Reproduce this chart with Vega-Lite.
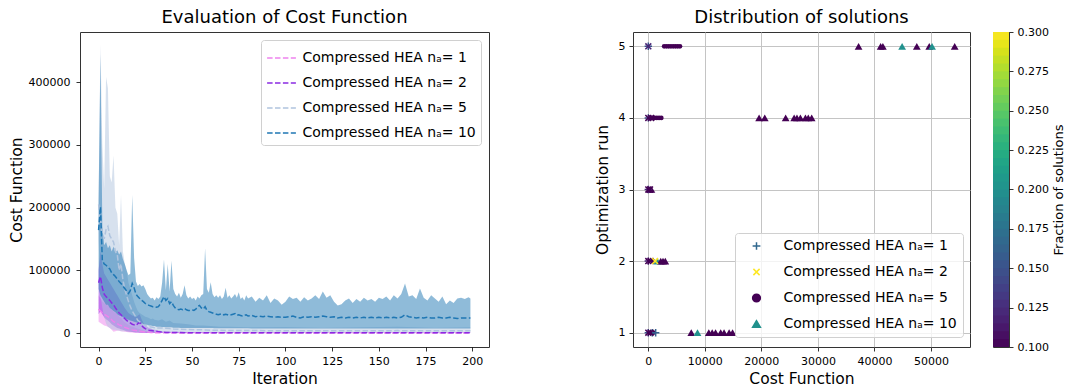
{
  "$schema": "https://vega.github.io/schema/vega-lite/v6.json",
  "padding": {"left": 8, "top": 2, "right": 0, "bottom": 0},
  "background": "white",
  "config": {
    "font": "DejaVu Sans",
    "view": {"stroke": "#333333", "strokeWidth": 1},
    "axis": {"labelFontSize": 11, "labelColor": "#000000", "labelFont": "DejaVu Sans", "titleFont": "DejaVu Sans", "titleFontSize": 15.5, "titleFontWeight": "normal", "titleColor": "#000000", "tickColor": "#000000", "tickSize": 4, "tickWidth": 0.8, "labelPadding": 4, "domain": false, "grid": false},
    "title": {"fontSize": 18, "fontWeight": "normal", "font": "DejaVu Sans", "color": "#000000", "offset": 5},
    "legend": {"labelFont": "DejaVu Sans", "labelFontSize": 14, "labelColor": "#000000", "labelLimit": 400}
  },
  "datasets": {
    "cost": [
      {"s":"1","i":0,"lo":18000,"hi":60000,"m":38000},{"s":"1","i":1,"lo":16000,"hi":55000,"m":35000},{"s":"1","i":2,"lo":14000,"hi":50000,"m":32000},{"s":"1","i":3,"lo":12000,"hi":48000,"m":30000},{"s":"1","i":4,"lo":11000,"hi":45000,"m":28000},{"s":"1","i":5,"lo":10000,"hi":45000,"m":26000},{"s":"1","i":6,"lo":8000,"hi":40000,"m":24000},{"s":"1","i":7,"lo":5000,"hi":38000,"m":21000},{"s":"1","i":8,"lo":2000,"hi":34000,"m":18000},{"s":"1","i":9,"lo":3000,"hi":32000,"m":17000},{"s":"1","i":10,"lo":4000,"hi":30000,"m":15000},{"s":"1","i":11,"lo":3500,"hi":26000,"m":13000},{"s":"1","i":12,"lo":3000,"hi":24000,"m":12000},{"s":"1","i":13,"lo":2500,"hi":20000,"m":10000},{"s":"1","i":14,"lo":2000,"hi":17000,"m":9000},{"s":"1","i":15,"lo":1500,"hi":15000,"m":8000},{"s":"1","i":16,"lo":1200,"hi":13000,"m":7000},{"s":"1","i":17,"lo":1000,"hi":11000,"m":6000},{"s":"1","i":18,"lo":800,"hi":10000,"m":5000},{"s":"1","i":19,"lo":600,"hi":9000,"m":4500},{"s":"1","i":20,"lo":500,"hi":8000,"m":4000},{"s":"1","i":22,"lo":300,"hi":6000,"m":3000},{"s":"1","i":24,"lo":200,"hi":4000,"m":2000},{"s":"1","i":26,"lo":100,"hi":3000,"m":1500},{"s":"1","i":28,"lo":0,"hi":2000,"m":1000},{"s":"1","i":30,"lo":0,"hi":1200,"m":600},{"s":"1","i":35,"lo":0,"hi":800,"m":300},{"s":"1","i":40,"lo":0,"hi":500,"m":200},{"s":"1","i":60,"lo":0,"hi":300,"m":100},{"s":"1","i":100,"lo":0,"hi":300,"m":100},{"s":"1","i":150,"lo":0,"hi":300,"m":100},{"s":"1","i":199,"lo":0,"hi":300,"m":100},
      {"s":"2","i":0,"lo":30000,"hi":100000,"m":80000},{"s":"2","i":1,"lo":35000,"hi":130000,"m":90000},{"s":"2","i":2,"lo":30000,"hi":110000,"m":72000},{"s":"2","i":3,"lo":25000,"hi":95000,"m":62000},{"s":"2","i":4,"lo":22000,"hi":90000,"m":58000},{"s":"2","i":5,"lo":20000,"hi":85000,"m":55000},{"s":"2","i":6,"lo":17000,"hi":80000,"m":52000},{"s":"2","i":7,"lo":14000,"hi":75000,"m":48000},{"s":"2","i":8,"lo":12000,"hi":70000,"m":45000},{"s":"2","i":9,"lo":10000,"hi":65000,"m":40000},{"s":"2","i":10,"lo":8000,"hi":60000,"m":36000},{"s":"2","i":11,"lo":7000,"hi":55000,"m":32000},{"s":"2","i":12,"lo":6000,"hi":50000,"m":29000},{"s":"2","i":13,"lo":5000,"hi":45000,"m":26000},{"s":"2","i":14,"lo":4000,"hi":40000,"m":23000},{"s":"2","i":15,"lo":3000,"hi":36000,"m":20000},{"s":"2","i":16,"lo":2500,"hi":32000,"m":18000},{"s":"2","i":17,"lo":2000,"hi":30000,"m":16000},{"s":"2","i":18,"lo":1500,"hi":28000,"m":14000},{"s":"2","i":19,"lo":1200,"hi":27000,"m":13000},{"s":"2","i":20,"lo":1000,"hi":25000,"m":12000},{"s":"2","i":21,"lo":800,"hi":28000,"m":15000},{"s":"2","i":22,"lo":600,"hi":30000,"m":17000},{"s":"2","i":23,"lo":500,"hi":22000,"m":12000},{"s":"2","i":24,"lo":400,"hi":16000,"m":9000},{"s":"2","i":25,"lo":300,"hi":12000,"m":7000},{"s":"2","i":26,"lo":200,"hi":10000,"m":5500},{"s":"2","i":27,"lo":200,"hi":8000,"m":4500},{"s":"2","i":28,"lo":100,"hi":7000,"m":4000},{"s":"2","i":29,"lo":100,"hi":6000,"m":3500},{"s":"2","i":30,"lo":100,"hi":5000,"m":3000},{"s":"2","i":32,"lo":50,"hi":4000,"m":2200},{"s":"2","i":34,"lo":50,"hi":3000,"m":1500},{"s":"2","i":36,"lo":0,"hi":2500,"m":1000},{"s":"2","i":40,"lo":0,"hi":2000,"m":700},{"s":"2","i":50,"lo":0,"hi":1500,"m":500},{"s":"2","i":60,"lo":0,"hi":1200,"m":400},{"s":"2","i":80,"lo":0,"hi":1000,"m":300},{"s":"2","i":100,"lo":0,"hi":800,"m":250},{"s":"2","i":130,"lo":0,"hi":800,"m":250},{"s":"2","i":160,"lo":0,"hi":800,"m":250},{"s":"2","i":199,"lo":0,"hi":800,"m":250},
      {"s":"5","i":0,"lo":150000,"hi":215000,"m":205000},{"s":"5","i":1,"lo":60000,"hi":459000,"m":180000},{"s":"5","i":2,"lo":40000,"hi":300000,"m":160000},{"s":"5","i":3,"lo":25000,"hi":230000,"m":150000},{"s":"5","i":4,"lo":15000,"hi":408000,"m":165000},{"s":"5","i":5,"lo":10000,"hi":390000,"m":170000},{"s":"5","i":6,"lo":8000,"hi":250000,"m":155000},{"s":"5","i":7,"lo":6000,"hi":240000,"m":150000},{"s":"5","i":8,"lo":5000,"hi":283000,"m":145000},{"s":"5","i":9,"lo":5000,"hi":200000,"m":130000},{"s":"5","i":10,"lo":4000,"hi":190000,"m":125000},{"s":"5","i":11,"lo":4000,"hi":140000,"m":100000},{"s":"5","i":12,"lo":3000,"hi":220000,"m":110000},{"s":"5","i":13,"lo":3000,"hi":130000,"m":85000},{"s":"5","i":14,"lo":3000,"hi":110000,"m":70000},{"s":"5","i":15,"lo":2500,"hi":100000,"m":60000},{"s":"5","i":16,"lo":2500,"hi":80000,"m":50000},{"s":"5","i":17,"lo":2000,"hi":70000,"m":42000},{"s":"5","i":18,"lo":2000,"hi":60000,"m":35000},{"s":"5","i":19,"lo":2000,"hi":50000,"m":30000},{"s":"5","i":20,"lo":2000,"hi":42000,"m":25000},{"s":"5","i":21,"lo":1500,"hi":35000,"m":20000},{"s":"5","i":22,"lo":1500,"hi":32000,"m":18000},{"s":"5","i":23,"lo":1500,"hi":30000,"m":15000},{"s":"5","i":24,"lo":1500,"hi":28000,"m":13000},{"s":"5","i":25,"lo":1500,"hi":26000,"m":12000},{"s":"5","i":26,"lo":1200,"hi":25000,"m":11000},{"s":"5","i":27,"lo":1200,"hi":24000,"m":10000},{"s":"5","i":28,"lo":1200,"hi":22000,"m":9500},{"s":"5","i":29,"lo":1200,"hi":23000,"m":9000},{"s":"5","i":30,"lo":1000,"hi":21000,"m":8500},{"s":"5","i":32,"lo":1000,"hi":20000,"m":8000},{"s":"5","i":34,"lo":1000,"hi":22000,"m":8000},{"s":"5","i":36,"lo":1000,"hi":18000,"m":7500},{"s":"5","i":38,"lo":1000,"hi":20000,"m":7000},{"s":"5","i":40,"lo":1000,"hi":16000,"m":6500},{"s":"5","i":44,"lo":1000,"hi":15000,"m":6000},{"s":"5","i":48,"lo":1000,"hi":14000,"m":5500},{"s":"5","i":52,"lo":800,"hi":12000,"m":5000},{"s":"5","i":56,"lo":800,"hi":12000,"m":5000},{"s":"5","i":60,"lo":800,"hi":11000,"m":4500},{"s":"5","i":65,"lo":800,"hi":10000,"m":4500},{"s":"5","i":70,"lo":800,"hi":10000,"m":4000},{"s":"5","i":80,"lo":800,"hi":9000,"m":4000},{"s":"5","i":100,"lo":700,"hi":9500,"m":3500},{"s":"5","i":120,"lo":700,"hi":8500,"m":3500},{"s":"5","i":140,"lo":700,"hi":9000,"m":3500},{"s":"5","i":160,"lo":700,"hi":10000,"m":3800},{"s":"5","i":180,"lo":700,"hi":8500,"m":3500},{"s":"5","i":199,"lo":700,"hi":9000,"m":3500},
      {"s":"10","i":0,"lo":70000,"hi":210000,"m":164000},{"s":"10","i":1,"lo":60000,"hi":443000,"m":201000},{"s":"10","i":2,"lo":55000,"hi":170000,"m":116000},{"s":"10","i":3,"lo":50000,"hi":140000,"m":110000},{"s":"10","i":4,"lo":45000,"hi":145000,"m":108000},{"s":"10","i":5,"lo":45000,"hi":135000,"m":105000},{"s":"10","i":6,"lo":40000,"hi":140000,"m":102000},{"s":"10","i":7,"lo":38000,"hi":130000,"m":96000},{"s":"10","i":8,"lo":35000,"hi":138000,"m":93000},{"s":"10","i":9,"lo":33000,"hi":128000,"m":90000},{"s":"10","i":10,"lo":30000,"hi":132000,"m":86000},{"s":"10","i":11,"lo":28000,"hi":125000,"m":82000},{"s":"10","i":12,"lo":27000,"hi":130000,"m":79000},{"s":"10","i":13,"lo":25000,"hi":118000,"m":75000},{"s":"10","i":14,"lo":24000,"hi":110000,"m":71000},{"s":"10","i":15,"lo":22000,"hi":100000,"m":67000},{"s":"10","i":16,"lo":21000,"hi":92000,"m":63000},{"s":"10","i":17,"lo":20000,"hi":95000,"m":68000},{"s":"10","i":18,"lo":19000,"hi":220000,"m":79000},{"s":"10","i":19,"lo":18000,"hi":120000,"m":72000},{"s":"10","i":20,"lo":17000,"hi":82000,"m":62000},{"s":"10","i":21,"lo":16000,"hi":75000,"m":58000},{"s":"10","i":22,"lo":15000,"hi":78000,"m":55000},{"s":"10","i":23,"lo":15000,"hi":74000,"m":52000},{"s":"10","i":24,"lo":14000,"hi":76000,"m":50000},{"s":"10","i":25,"lo":13000,"hi":70000,"m":47000},{"s":"10","i":26,"lo":13000,"hi":62000,"m":45000},{"s":"10","i":27,"lo":12000,"hi":58000,"m":44000},{"s":"10","i":28,"lo":12000,"hi":55000,"m":43000},{"s":"10","i":29,"lo":11000,"hi":56000,"m":42000},{"s":"10","i":30,"lo":11000,"hi":52000,"m":42000},{"s":"10","i":31,"lo":10000,"hi":57000,"m":41000},{"s":"10","i":32,"lo":10000,"hi":54000,"m":42000},{"s":"10","i":33,"lo":10000,"hi":58000,"m":46000},{"s":"10","i":34,"lo":9500,"hi":80000,"m":52000},{"s":"10","i":35,"lo":9500,"hi":117000,"m":58000},{"s":"10","i":36,"lo":9000,"hi":68000,"m":52000},{"s":"10","i":37,"lo":9000,"hi":110000,"m":55000},{"s":"10","i":38,"lo":9000,"hi":66000,"m":47000},{"s":"10","i":39,"lo":9000,"hi":115000,"m":50000},{"s":"10","i":40,"lo":8500,"hi":70000,"m":44000},{"s":"10","i":41,"lo":8500,"hi":62000,"m":40000},{"s":"10","i":42,"lo":8500,"hi":58000,"m":38000},{"s":"10","i":43,"lo":8500,"hi":64000,"m":37000},{"s":"10","i":44,"lo":8000,"hi":56000,"m":38000},{"s":"10","i":45,"lo":8000,"hi":62000,"m":37000},{"s":"10","i":46,"lo":8000,"hi":76000,"m":39000},{"s":"10","i":47,"lo":8000,"hi":60000,"m":37000},{"s":"10","i":48,"lo":8000,"hi":55000,"m":36000},{"s":"10","i":49,"lo":8000,"hi":58000,"m":36000},{"s":"10","i":50,"lo":8000,"hi":54000,"m":37000},{"s":"10","i":51,"lo":8000,"hi":56000,"m":36000},{"s":"10","i":52,"lo":8000,"hi":52000,"m":38000},{"s":"10","i":53,"lo":8000,"hi":58000,"m":42000},{"s":"10","i":54,"lo":8000,"hi":55000,"m":44000},{"s":"10","i":55,"lo":8000,"hi":60000,"m":40000},{"s":"10","i":56,"lo":8000,"hi":62000,"m":38000},{"s":"10","i":57,"lo":8000,"hi":135000,"m":42000},{"s":"10","i":58,"lo":8000,"hi":70000,"m":36000},{"s":"10","i":59,"lo":8000,"hi":64000,"m":34000},{"s":"10","i":60,"lo":8000,"hi":81000,"m":33000},{"s":"10","i":61,"lo":8000,"hi":62000,"m":32000},{"s":"10","i":62,"lo":7500,"hi":57000,"m":31000},{"s":"10","i":63,"lo":7500,"hi":60000,"m":30000},{"s":"10","i":64,"lo":7500,"hi":56000,"m":29000},{"s":"10","i":65,"lo":7500,"hi":60000,"m":30000},{"s":"10","i":66,"lo":7500,"hi":54000,"m":31000},{"s":"10","i":67,"lo":7500,"hi":58000,"m":29000},{"s":"10","i":68,"lo":7500,"hi":72000,"m":30000},{"s":"10","i":69,"lo":7500,"hi":56000,"m":29000},{"s":"10","i":70,"lo":7500,"hi":60000,"m":28000},{"s":"10","i":71,"lo":7500,"hi":55000,"m":29000},{"s":"10","i":72,"lo":7500,"hi":58000,"m":30000},{"s":"10","i":73,"lo":7500,"hi":62000,"m":31000},{"s":"10","i":74,"lo":7500,"hi":56000,"m":28000},{"s":"10","i":75,"lo":7500,"hi":65000,"m":29000},{"s":"10","i":76,"lo":7500,"hi":54000,"m":28000},{"s":"10","i":77,"lo":7500,"hi":57000,"m":27000},{"s":"10","i":78,"lo":7500,"hi":52000,"m":28000},{"s":"10","i":79,"lo":7500,"hi":60000,"m":29000},{"s":"10","i":80,"lo":7500,"hi":55000,"m":27000},
      {"s":"10","i":82,"lo":7000,"hi":58000,"m":28000},{"s":"10","i":84,"lo":7000,"hi":50000,"m":26000},{"s":"10","i":86,"lo":7000,"hi":56000,"m":27000},{"s":"10","i":88,"lo":7000,"hi":52000,"m":26000},{"s":"10","i":90,"lo":7000,"hi":60000,"m":27000},{"s":"10","i":92,"lo":7000,"hi":48000,"m":26000},{"s":"10","i":94,"lo":7000,"hi":55000,"m":25000},{"s":"10","i":96,"lo":7000,"hi":52000,"m":26000},{"s":"10","i":98,"lo":7000,"hi":45000,"m":25000},{"s":"10","i":100,"lo":7000,"hi":50000,"m":25000},{"s":"10","i":102,"lo":7000,"hi":58000,"m":26000},{"s":"10","i":104,"lo":7000,"hi":54000,"m":27000},{"s":"10","i":106,"lo":7000,"hi":56000,"m":25000},{"s":"10","i":108,"lo":7000,"hi":50000,"m":24000},{"s":"10","i":110,"lo":7000,"hi":57000,"m":26000},{"s":"10","i":112,"lo":7000,"hi":52000,"m":25000},{"s":"10","i":114,"lo":7000,"hi":55000,"m":26000},{"s":"10","i":116,"lo":7000,"hi":60000,"m":25000},{"s":"10","i":118,"lo":7000,"hi":54000,"m":26000},{"s":"10","i":120,"lo":7000,"hi":66000,"m":27000},{"s":"10","i":122,"lo":7000,"hi":56000,"m":26000},{"s":"10","i":124,"lo":7000,"hi":60000,"m":25000},{"s":"10","i":126,"lo":7000,"hi":50000,"m":26000},{"s":"10","i":128,"lo":7000,"hi":44000,"m":24000},{"s":"10","i":130,"lo":7000,"hi":46000,"m":25000},{"s":"10","i":132,"lo":7000,"hi":52000,"m":24000},{"s":"10","i":134,"lo":7000,"hi":55000,"m":25000},{"s":"10","i":136,"lo":7000,"hi":48000,"m":24000},{"s":"10","i":138,"lo":7000,"hi":54000,"m":25000},{"s":"10","i":140,"lo":7000,"hi":50000,"m":24000},{"s":"10","i":142,"lo":7000,"hi":56000,"m":25000},{"s":"10","i":144,"lo":7000,"hi":52000,"m":24000},{"s":"10","i":146,"lo":7000,"hi":54000,"m":25000},{"s":"10","i":148,"lo":7000,"hi":50000,"m":24000},{"s":"10","i":150,"lo":7000,"hi":56000,"m":25000},{"s":"10","i":152,"lo":7000,"hi":54000,"m":24000},{"s":"10","i":154,"lo":7000,"hi":58000,"m":25000},{"s":"10","i":156,"lo":7000,"hi":52000,"m":24000},{"s":"10","i":158,"lo":7000,"hi":60000,"m":25000},{"s":"10","i":160,"lo":7000,"hi":55000,"m":24000},{"s":"10","i":162,"lo":7000,"hi":62000,"m":25000},{"s":"10","i":164,"lo":7000,"hi":79000,"m":29000},{"s":"10","i":166,"lo":7000,"hi":58000,"m":26000},{"s":"10","i":168,"lo":7000,"hi":60000,"m":25000},{"s":"10","i":170,"lo":7000,"hi":54000,"m":24000},{"s":"10","i":172,"lo":7000,"hi":71000,"m":25000},{"s":"10","i":174,"lo":7000,"hi":56000,"m":24000},{"s":"10","i":176,"lo":7000,"hi":52000,"m":25000},{"s":"10","i":178,"lo":7000,"hi":60000,"m":24000},{"s":"10","i":180,"lo":7000,"hi":55000,"m":24000},{"s":"10","i":182,"lo":7000,"hi":50000,"m":25000},{"s":"10","i":184,"lo":7000,"hi":58000,"m":24000},{"s":"10","i":186,"lo":7000,"hi":46000,"m":24000},{"s":"10","i":188,"lo":7000,"hi":52000,"m":25000},{"s":"10","i":190,"lo":7000,"hi":48000,"m":24000},{"s":"10","i":192,"lo":7000,"hi":55000,"m":23000},{"s":"10","i":194,"lo":7000,"hi":56000,"m":24000},{"s":"10","i":196,"lo":7000,"hi":54000,"m":24000},{"s":"10","i":198,"lo":7000,"hi":57000,"m":24000},{"s":"10","i":199,"lo":7000,"hi":55000,"m":24000}
    ],
    "sol": [
      {"s":"1","x":0,"y":5,"f":0.15},{"s":"1","x":0,"y":4,"f":0.15},{"s":"1","x":0,"y":3,"f":0.12},{"s":"1","x":0,"y":2,"f":0.12},{"s":"1","x":0,"y":1,"f":0.15},{"s":"1","x":700,"y":1,"f":0.17},{"s":"1","x":1300,"y":1,"f":0.16},
      {"s":"2","x":0,"y":5,"f":0.12},{"s":"2","x":0,"y":4,"f":0.1},{"s":"2","x":500,"y":4,"f":0.1},{"s":"2","x":0,"y":3,"f":0.1},{"s":"2","x":300,"y":3,"f":0.1},{"s":"2","x":0,"y":2,"f":0.1},{"s":"2","x":400,"y":2,"f":0.1},{"s":"2","x":1200,"y":2,"f":0.3},{"s":"2","x":0,"y":1,"f":0.1},{"s":"2","x":400,"y":1,"f":0.1},
      {"s":"5","x":2800,"y":5,"f":0.1},{"s":"5","x":3200,"y":5,"f":0.1},{"s":"5","x":3600,"y":5,"f":0.1},{"s":"5","x":4000,"y":5,"f":0.1},{"s":"5","x":4400,"y":5,"f":0.1},{"s":"5","x":4800,"y":5,"f":0.1},{"s":"5","x":5200,"y":5,"f":0.1},{"s":"5","x":5600,"y":5,"f":0.1},
      {"s":"5","x":300,"y":4,"f":0.1},{"s":"5","x":700,"y":4,"f":0.1},{"s":"5","x":1100,"y":4,"f":0.1},{"s":"5","x":1500,"y":4,"f":0.1},{"s":"5","x":1900,"y":4,"f":0.1},{"s":"5","x":2300,"y":4,"f":0.1},
      {"s":"5","x":100,"y":3,"f":0.1},{"s":"5","x":800,"y":2,"f":0.1},{"s":"5","x":500,"y":1,"f":0.1},{"s":"5","x":900,"y":1,"f":0.1},
      {"s":"10","x":37200,"y":5,"f":0.1},{"s":"10","x":41100,"y":5,"f":0.1},{"s":"10","x":41500,"y":5,"f":0.1},{"s":"10","x":44900,"y":5,"f":0.2},{"s":"10","x":47500,"y":5,"f":0.1},{"s":"10","x":49700,"y":5,"f":0.1},{"s":"10","x":50200,"y":5,"f":0.2},{"s":"10","x":54200,"y":5,"f":0.1},
      {"s":"10","x":19600,"y":4,"f":0.1},{"s":"10","x":20600,"y":4,"f":0.1},{"s":"10","x":24300,"y":4,"f":0.1},{"s":"10","x":25800,"y":4,"f":0.1},{"s":"10","x":26300,"y":4,"f":0.1},{"s":"10","x":26900,"y":4,"f":0.1},{"s":"10","x":27800,"y":4,"f":0.1},{"s":"10","x":28300,"y":4,"f":0.1},{"s":"10","x":28900,"y":4,"f":0.1},
      {"s":"10","x":250,"y":3,"f":0.1},{"s":"10","x":550,"y":3,"f":0.1},
      {"s":"10","x":1600,"y":2,"f":0.2},{"s":"10","x":2200,"y":2,"f":0.1},{"s":"10","x":2600,"y":2,"f":0.1},{"s":"10","x":3000,"y":2,"f":0.1},
      {"s":"10","x":7600,"y":1,"f":0.1},{"s":"10","x":8700,"y":1,"f":0.2},{"s":"10","x":10700,"y":1,"f":0.1},{"s":"10","x":11300,"y":1,"f":0.1},{"s":"10","x":11900,"y":1,"f":0.1},{"s":"10","x":12800,"y":1,"f":0.1},{"s":"10","x":13400,"y":1,"f":0.1},{"s":"10","x":14300,"y":1,"f":0.1},{"s":"10","x":14900,"y":1,"f":0.1}
    ],
    "cb": [
      {"a":0.100,"b":0.106,"c":0.1025},{"a":0.105,"b":0.111,"c":0.1075},{"a":0.110,"b":0.116,"c":0.1125},{"a":0.115,"b":0.121,"c":0.1175},{"a":0.120,"b":0.126,"c":0.1225},{"a":0.125,"b":0.131,"c":0.1275},{"a":0.130,"b":0.136,"c":0.1325},{"a":0.135,"b":0.141,"c":0.1375},{"a":0.140,"b":0.146,"c":0.1425},{"a":0.145,"b":0.151,"c":0.1475},
      {"a":0.150,"b":0.156,"c":0.1525},{"a":0.155,"b":0.161,"c":0.1575},{"a":0.160,"b":0.166,"c":0.1625},{"a":0.165,"b":0.171,"c":0.1675},{"a":0.170,"b":0.176,"c":0.1725},{"a":0.175,"b":0.181,"c":0.1775},{"a":0.180,"b":0.186,"c":0.1825},{"a":0.185,"b":0.191,"c":0.1875},{"a":0.190,"b":0.196,"c":0.1925},{"a":0.195,"b":0.201,"c":0.1975},
      {"a":0.200,"b":0.206,"c":0.2025},{"a":0.205,"b":0.211,"c":0.2075},{"a":0.210,"b":0.216,"c":0.2125},{"a":0.215,"b":0.221,"c":0.2175},{"a":0.220,"b":0.226,"c":0.2225},{"a":0.225,"b":0.231,"c":0.2275},{"a":0.230,"b":0.236,"c":0.2325},{"a":0.235,"b":0.241,"c":0.2375},{"a":0.240,"b":0.246,"c":0.2425},{"a":0.245,"b":0.251,"c":0.2475},
      {"a":0.250,"b":0.256,"c":0.2525},{"a":0.255,"b":0.261,"c":0.2575},{"a":0.260,"b":0.266,"c":0.2625},{"a":0.265,"b":0.271,"c":0.2675},{"a":0.270,"b":0.276,"c":0.2725},{"a":0.275,"b":0.281,"c":0.2775},{"a":0.280,"b":0.286,"c":0.2825},{"a":0.285,"b":0.291,"c":0.2875},{"a":0.290,"b":0.296,"c":0.2925},{"a":0.295,"b":0.300,"c":0.2975}
    ]
  },
  "spacing": 104,
  "resolve": {"scale": {"color": "independent", "shape": "independent", "fill": "independent", "stroke": "independent", "size": "independent"}, "legend": {"color": "independent", "shape": "independent", "fill": "independent", "stroke": "independent", "size": "independent"}},
  "hconcat": [
    {
      "width": 409,
      "height": 315,
      "title": "Evaluation of Cost Function",
      "data": {"name": "cost"},
      "encoding": {
        "x": {"field": "i", "type": "quantitative", "scale": {"domain": [-9.95, 208.95], "nice": false, "zero": false}, "axis": {"values": [0, 25, 50, 75, 100, 125, 150, 175, 200], "title": "Iteration", "titlePadding": 5}}
      },
      "layer": [
        {
          "mark": {"type": "area", "opacity": 0.5},
          "encoding": {
            "y": {"field": "lo", "type": "quantitative", "scale": {"domain": [-22300, 479700], "nice": false, "zero": false}, "axis": {"values": [0, 100000, 200000, 300000, 400000], "format": "d", "title": "Cost Function", "titlePadding": 4, "labelPadding": 6}},
            "y2": {"field": "hi"},
            "color": {"field": "s", "type": "nominal", "scale": {"domain": ["1", "2", "5", "10"], "range": ["#ee82ee", "#8a2be2", "#b0c4de", "#1f77b4"]},
              "legend": {"orient": "none", "legendX": 181, "legendY": 8, "title": null, "symbolType": "M-1.2,0L1.2,0", "symbolSize": 576, "symbolDash": [5.5, 2.4], "symbolStrokeWidth": 1.5, "symbolOffset": 2.5, "symbolOpacity": 1, "symbolFillColor": "transparent", "labelOffset": 8, "labelFontSize": 14, "rowPadding": 5, "padding": 5, "strokeColor": "#d0d0d0", "fillColor": "rgba(255,255,255,0.8)", "cornerRadius": 3, "labelExpr": "'Compressed HEA nₐ= ' + datum.label"}}
          }
        },
        {
          "mark": {"type": "line", "strokeDash": [5.5, 2.4], "strokeWidth": 1.5},
          "encoding": {
            "y": {"field": "m", "type": "quantitative"},
            "color": {"field": "s", "type": "nominal", "scale": {"domain": ["1", "2", "5", "10"], "range": ["#ee82ee", "#8a2be2", "#b0c4de", "#1f77b4"]},
              "legend": {"orient": "none", "legendX": 181, "legendY": 8, "title": null, "symbolType": "M-1.2,0L1.2,0", "symbolSize": 576, "symbolDash": [5.5, 2.4], "symbolStrokeWidth": 1.5, "symbolOffset": 2.5, "symbolOpacity": 1, "symbolFillColor": "transparent", "labelOffset": 8, "labelFontSize": 14, "rowPadding": 5, "padding": 5, "strokeColor": "#d0d0d0", "fillColor": "rgba(255,255,255,0.8)", "cornerRadius": 3, "labelExpr": "'Compressed HEA nₐ= ' + datum.label"}}
          }
        }
      ]
    },
    {
      "spacing": 21,
      "resolve": {"legend": {"shape": "independent", "fill": "independent", "stroke": "independent", "size": "independent"}},
      "hconcat": [
        {
          "width": 337,
          "height": 315,
          "title": "Distribution of solutions",
          "data": {"name": "sol"},
          "encoding": {
            "x": {"field": "x", "type": "quantitative", "scale": {"domain": [-2710, 56910], "nice": false, "zero": false}, "axis": {"values": [0, 10000, 20000, 30000, 40000, 50000], "format": "d", "title": "Cost Function", "titlePadding": 5, "grid": true, "gridColor": "#c4c4c4", "gridWidth": 1}},
            "y": {"field": "y", "type": "quantitative", "scale": {"domain": [0.8, 5.2], "nice": false, "zero": false}, "axis": {"values": [1, 2, 3, 4, 5], "format": "d", "title": "Optimization run", "titlePadding": 8, "grid": true, "gridColor": "#c4c4c4", "gridWidth": 1}},
            "shape": {"field": "s", "type": "nominal", "scale": {"domain": ["1", "2", "5", "10"], "range": ["M-1,0L1,0M0,-1L0,1", "M-0.8,-0.8L0.8,0.8M0.8,-0.8L-0.8,0.8", "circle", "triangle-up"]},
              "legend": {"orient": "none", "legendX": 102, "legendY": 201, "title": null, "symbolOffset": 8.5, "symbolOpacity": 1, "symbolStrokeWidth": 1.5, "labelOffset": 20, "labelFontSize": 14, "rowPadding": 12, "padding": 6, "strokeColor": "#d0d0d0", "fillColor": "rgba(255,255,255,0.8)", "cornerRadius": 3, "labelExpr": "'Compressed HEA nₐ= ' + datum.label"}}
          },
          "layer": [
            {
              "transform": [{"filter": "datum.s == '5'"}],
              "mark": {"type": "point", "filled": true, "size": 22, "opacity": 1},
              "encoding": {"color": {"field": "f", "type": "quantitative", "scale": {"scheme": "viridis", "domain": [0.1, 0.3]}, "legend": null}}
            },
            {
              "transform": [{"filter": "datum.s == '10'"}],
              "mark": {"type": "point", "filled": true, "size": 60, "opacity": 1},
              "encoding": {"color": {"field": "f", "type": "quantitative", "scale": {"scheme": "viridis", "domain": [0.1, 0.3]}, "legend": null}}
            },
            {
              "transform": [{"filter": "datum.s == '1' || datum.s == '2'"}],
              "mark": {"type": "point", "filled": false, "strokeWidth": 1.5, "size": 55, "opacity": 1},
              "encoding": {"color": {"field": "f", "type": "quantitative", "scale": {"scheme": "viridis", "domain": [0.1, 0.3]}, "legend": null}}
            },
            {
              "mark": {"type": "point", "filled": true, "opacity": 0},
              "encoding": {
                "fill": {"field": "s", "type": "nominal", "scale": {"domain": ["1", "2", "5", "10"], "range": ["transparent", "transparent", "#440154", "#21918c"]},
                  "legend": {"orient": "none", "legendX": 102, "legendY": 201, "title": null, "symbolOffset": 8.5, "symbolOpacity": 1, "symbolStrokeWidth": 1.5, "labelOffset": 20, "labelFontSize": 14, "rowPadding": 12, "padding": 6, "strokeColor": "#d0d0d0", "fillColor": "rgba(255,255,255,0.8)", "cornerRadius": 3, "labelExpr": "'Compressed HEA nₐ= ' + datum.label"}},
                "stroke": {"field": "s", "type": "nominal", "scale": {"domain": ["1", "2", "5", "10"], "range": ["#31688e", "#fde725", "#440154", "#21918c"]},
                  "legend": {"orient": "none", "legendX": 102, "legendY": 201, "title": null, "symbolOffset": 8.5, "symbolOpacity": 1, "symbolStrokeWidth": 1.5, "labelOffset": 20, "labelFontSize": 14, "rowPadding": 12, "padding": 6, "strokeColor": "#d0d0d0", "fillColor": "rgba(255,255,255,0.8)", "cornerRadius": 3, "labelExpr": "'Compressed HEA nₐ= ' + datum.label"}},
                "size": {"field": "s", "type": "ordinal", "scale": {"domain": ["1", "2", "5", "10"], "range": [60, 60, 16, 60]},
                  "legend": {"orient": "none", "legendX": 102, "legendY": 201, "title": null, "symbolOffset": 8.5, "symbolOpacity": 1, "symbolStrokeWidth": 1.5, "labelOffset": 20, "labelFontSize": 14, "rowPadding": 12, "padding": 6, "strokeColor": "#d0d0d0", "fillColor": "rgba(255,255,255,0.8)", "cornerRadius": 3, "labelExpr": "'Compressed HEA nₐ= ' + datum.label"}}
              }
            }
          ]
        },
        {
          "width": 16,
          "height": 315,
          "title": " ",
          "data": {"name": "cb"},
          "mark": {"type": "rect"},
          "encoding": {
            "y": {"field": "a", "type": "quantitative", "scale": {"domain": [0.1, 0.3], "nice": false, "zero": false}, "axis": {"orient": "right", "values": [0.1, 0.125, 0.15, 0.175, 0.2, 0.225, 0.25, 0.275, 0.3], "format": ".3f", "title": "Fraction of solutions", "titleFontSize": 13, "titlePadding": 4, "titleAngle": 270, "titleBaseline": "top"}},
            "y2": {"field": "b"},
            "color": {"field": "c", "type": "quantitative", "scale": {"scheme": "viridis", "domain": [0.1, 0.3]}, "legend": null}
          }
        }
      ]
    }
  ]
}
